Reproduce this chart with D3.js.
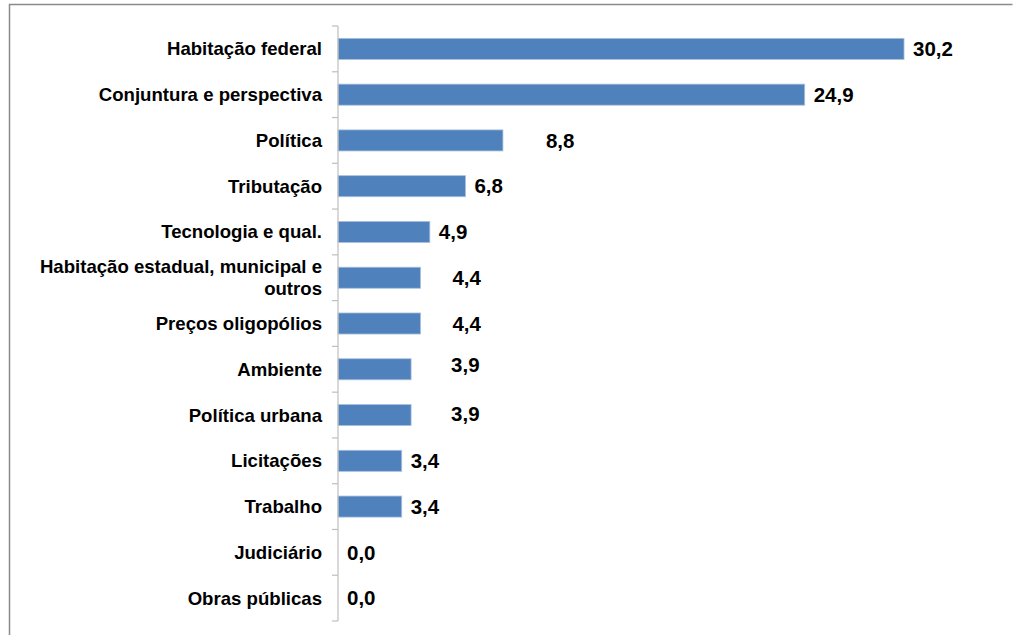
<!DOCTYPE html>
<html>
<head>
<meta charset="utf-8">
<script src="https://cdn.jsdelivr.net/npm/d3@7"></script>
<style>
  html, body { margin: 0; padding: 0; background: #fff; }
  svg { display: block; }
  text { font-family: "Liberation Sans", Arial, sans-serif; font-weight: bold; fill: #000; }
</style>
</head>
<body>
<svg id="chart" width="1019" height="635"></svg>
<script>
// Categories (top to bottom) and their shares (%)
const categories = [
  "Habitação federal",
  "Conjuntura e perspectiva",
  "Política",
  "Tributação",
  "Tecnologia e qual.",
  "Habitação estadual, municipal e outros",
  "Preços oligopólios",
  "Ambiente",
  "Política urbana",
  "Licitações",
  "Trabalho",
  "Judiciário",
  "Obras públicas"
];
const values = [30.2, 24.9, 8.8, 6.8, 4.9, 4.4, 4.4, 3.9, 3.9, 3.4, 3.4, 0.0, 0.0];

// Manual nudges for a few value labels (px), as laid out in the chart
const labelShiftX = [0, 0, 34, 0, 0, 23, 23, 31, 31, 0, 0, 0, 0];
const labelShiftY = [0, 0, 0, 0, 0, 0, 0, -4, -1, 0, 0, 0, 0];

const svg = d3.select("#chart");

// Frame around the chart area
svg.append("path")
  .attr("d", "M1012.5,4.5 H9.5 V635")
  .attr("fill", "none")
  .attr("stroke", "#8a8a8a")
  .attr("stroke-width", 1.5);

const x = d3.scaleLinear().domain([0, 35]).range([338, 994]);
const y = d3.scaleBand().domain(categories).range([26, 621])
  .paddingInner(0.54).paddingOuter(0.27);

const fmt = v => d3.format(".1f")(v).replace(".", ",");

// Bars
svg.append("g").selectAll("rect")
  .data(categories)
  .join("rect")
  .attr("x", x(0))
  .attr("y", d => y(d))
  .attr("width", (d, i) => x(values[i]) - x(0))
  .attr("height", y.bandwidth())
  .attr("fill", "#4F81BD")
  .attr("stroke", "#a9c0dd")
  .attr("stroke-width", 0.8);

// Category axis: vertical line with tick marks between categories
const step = y.step();
const axis = svg.append("g");
axis.append("line")
  .attr("x1", x(0)).attr("x2", x(0))
  .attr("y1", 26).attr("y2", 621)
  .attr("stroke", "#bfbfbf").attr("stroke-width", 1.2);
axis.selectAll("line.tick")
  .data(d3.range(categories.length + 1))
  .join("line")
  .attr("class", "tick")
  .attr("x1", x(0) - 6).attr("x2", x(0))
  .attr("y1", i => 26 + i * step).attr("y2", i => 26 + i * step)
  .attr("stroke", "#bfbfbf").attr("stroke-width", 1.2);

// Category labels, wrapped when too long
svg.append("g").selectAll("text")
  .data(categories)
  .join("text")
  .attr("text-anchor", "end")
  .attr("font-size", 18.6)
  .each(function(d) {
    const t = d3.select(this);
    const cy = y(d) + y.bandwidth() / 2;
    const words = d.split(" ");
    const lines = [];
    let line = [];
    const probe = t.append("tspan");
    words.forEach(w => {
      const trial = line.concat(w).join(" ");
      probe.text(trial);
      if (probe.node().getComputedTextLength() > 300 && line.length) {
        lines.push(line.join(" "));
        line = [w];
      } else {
        line.push(w);
      }
    });
    lines.push(line.join(" "));
    probe.remove();
    const lh = 21.6;
    lines.forEach((l, k) => {
      t.append("tspan")
        .attr("x", 322)
        .attr("y", cy + (k - (lines.length - 1) / 2) * lh)
        .attr("dy", "0.35em")
        .text(l);
    });
  });

// Value labels
svg.append("g").selectAll("text")
  .data(categories)
  .join("text")
  .attr("x", (d, i) => x(values[i]) + 9 + labelShiftX[i])
  .attr("y", (d, i) => y(d) + y.bandwidth() / 2 + labelShiftY[i])
  .attr("dy", "0.35em")
  .attr("font-size", 20.5)
  .text((d, i) => fmt(values[i]));
</script>
</body>
</html>
